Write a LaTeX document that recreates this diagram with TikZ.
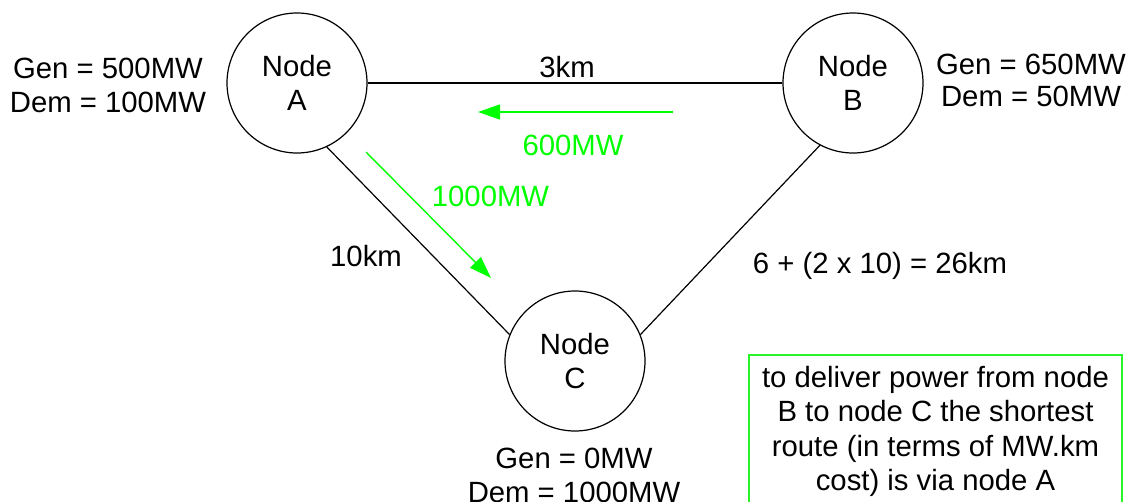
\documentclass[tikz,border=0pt]{standalone}
\usepackage{fontspec}
\setmainfont{Liberation Sans}
\usetikzlibrary{arrows.meta}
\definecolor{brgreen}{RGB}{0,255,0}
\definecolor{boxgreen}{RGB}{40,245,40}
\begin{document}
\begin{tikzpicture}[x=1pt,y=-1pt,
  every node/.style={font=\fontsize{29.3}{34.4}\selectfont, inner sep=0pt},
  bus/.style={circle, draw, line width=1.2pt, minimum size=140pt, align=center},
  wire/.style={line width=1.2pt},
  flow/.style={brgreen, line width=1.4pt, -{Triangle[length=22pt,width=15pt]}},
  lbl/.style={anchor=base, align=center},
  flowlbl/.style={anchor=base, text=brgreen},
  notebox/.style={draw=boxgreen, line width=2pt}]
\useasboundingbox (0,0) rectangle (1130,501);
% buses
\node[bus] (A) at (297,83) {Node\\A};
\node[bus] (B) at (853,83) {Node\\B};
\node[bus] (C) at (575,361) {Node\\C};
% lines
\draw[wire] (A.east) -- (B.west);
\draw[wire] (A.-65.7) -- (C.158.2);
\draw[wire] (B.-118) -- (C.22);
% flows
\coordinate (f1s) at (673,112);
\coordinate (f1e) at (478,112);
\draw[flow] (f1s) -- (f1e);
\coordinate (f2s) at (366,152);
\coordinate (f2e) at (491,278);
\draw[flow] (f2s) -- (f2e);
% labels
\node[lbl] (dAB) at (567,77) {3km};
\node[flowlbl] (pAB) at (573,155.7) {600MW};
\node[flowlbl] (pAC) at (490.5,206.7) {1000MW};
\node[lbl] (dAC) at (366,266) {10km};
\node[lbl] (dBC) at (880,273) {6 + (2 x 10) = 26km};
\node[lbl] (gA) at (108,112.7) {Gen = 500MW\\Dem = 100MW};
\node[lbl, font=\fontsize{29.3}{32}\selectfont] (gB) at (1031,106.7) {Gen = 650MW\\Dem = 50MW};
\node[lbl] (gC) at (574,502.5) {Gen = 0MW\\Dem = 1000MW};
% note
\draw[notebox] (749,355) rectangle (1122,520);
\node[lbl] (note) at (935.5,490.5) {to deliver power from node\\B to node C the shortest\\route (in terms of MW.km\\cost) is via node A};
\end{tikzpicture}
\end{document}
